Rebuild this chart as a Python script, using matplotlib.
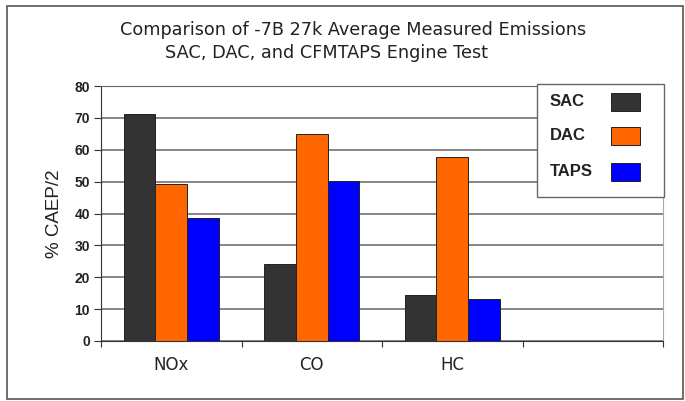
import matplotlib
matplotlib.use("Agg")
import matplotlib.pyplot as plt
import matplotlib.patches as patches
import numpy as np

# data
categories = ['NOx', 'CO', 'HC', '']
series = ['SAC', 'DAC', 'TAPS']
sac = [71.2, 24.2, 14.5]
dac = [49.3, 64.9, 57.6]
taps = [38.7, 50.2, 13.1]
bar_colors = ['#333333', '#FF6600', '#0000FF']
yticks = [0, 10, 20, 30, 40, 50, 60, 70, 80]

W, H = 685, 401
fig = plt.figure(figsize=(W / 100, H / 100), dpi=100)
ax = fig.add_axes([101 / W, 60 / H, 562 / W, 255 / H])


def fx(px):
    return px / W


def fy(py):
    return 1 - py / H


# outer frame round the whole picture
fig.patches.append(patches.Rectangle((fx(7), fy(399)), fx(676), 393 / H,
                                     transform=fig.transFigure, fill=False,
                                     edgecolor='#555555', linewidth=1.2))

width = 0.225
x = np.arange(len(sac))
for k, (vals, col, name) in enumerate(zip([sac, dac, taps], bar_colors, series)):
    ax.bar(x + (k - 1) * width, vals, width, color=col, edgecolor='#222222',
           linewidth=0.7, label=name, zorder=3)

ax.set_xlim(-0.5, len(categories) - 0.5)
ax.set_ylim(0, 80)
ax.set_yticks(yticks)
ax.set_yticklabels([str(v) for v in yticks], fontsize=10, fontweight='bold',
                   family='Liberation Sans', color='#222222')
ax.yaxis.grid(True, color='#666666', linewidth=1.1, zorder=0)

# boundary ticks as major, category names as minor
ax.set_xticks(np.arange(-0.5, len(categories), 1.0))
ax.set_xticklabels([])
ax.set_xticks(np.arange(len(categories)), minor=True)
ax.set_xticklabels(categories, minor=True, fontsize=12, family='DejaVu Sans',
                   color='#222222')
ax.tick_params(axis='x', which='minor', length=0, pad=11)
ax.tick_params(axis='x', which='major', length=4, color='#333333')
ax.tick_params(axis='y', length=5, color='#333333', pad=3)

ax.spines['left'].set_color('#333333')
ax.spines['bottom'].set_color('#333333')
ax.spines['top'].set_color('#666666')
ax.spines['right'].set_color('#aaaaaa')

ax.set_ylabel('% CAEP/2', fontsize=13.5, family='Liberation Sans', labelpad=8,
              color='#222222')

# legend box drawn by hand: names on the left, swatches on the right
fig.patches.append(patches.Rectangle((fx(537), fy(197)), fx(127), 113 / H,
                                     transform=fig.transFigure, facecolor='white',
                                     edgecolor='#666666', linewidth=1.0, zorder=5))
for name, col, yc in zip(series, bar_colors, [102, 136, 172]):
    fig.patches.append(patches.Rectangle((fx(611), fy(yc + 9)), fx(29), 18 / H,
                                         transform=fig.transFigure, facecolor=col,
                                         edgecolor='#222222', linewidth=0.7, zorder=6))
    fig.text(fx(550), fy(yc), name, fontsize=12, fontweight='bold',
             family='Liberation Sans', ha='left', va='center', color='#222222',
             zorder=6)

fig.text(fx(120), fy(30), 'Comparison of -7B 27k Average Measured Emissions',
         fontsize=12.7, family='DejaVu Sans', ha='left', va='center', color='#222222')
fig.text(fx(165), fy(53), 'SAC, DAC, and CFMTAPS Engine Test',
         fontsize=12.7, family='DejaVu Sans', ha='left', va='center', color='#222222')

fig.savefig('out.png', dpi=100, facecolor='white')
